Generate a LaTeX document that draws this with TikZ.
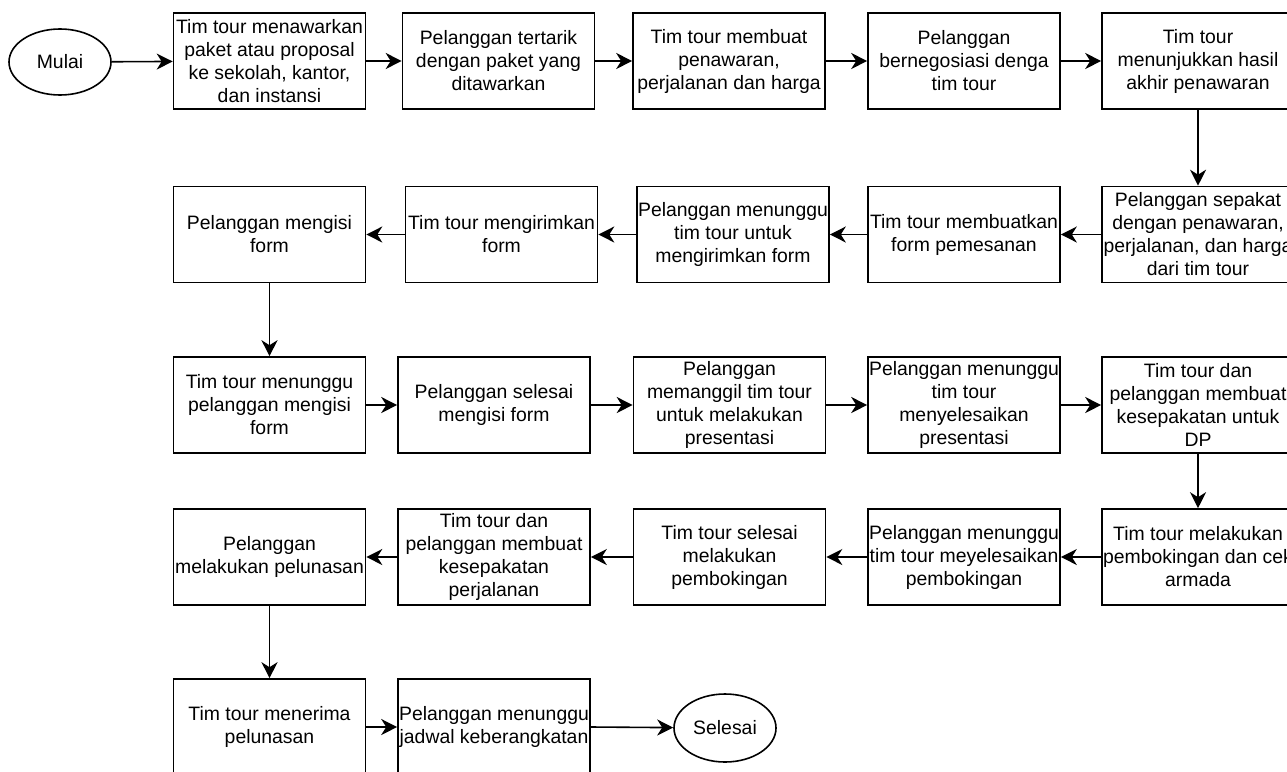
\documentclass[tikz,border=0pt]{standalone}
\usepackage{fontspec}
\setmainfont{Liberation Sans}
\usetikzlibrary{shapes.geometric,arrows.meta}
\newcommand\mkln[1]{\makebox[0pt][c]{#1}}
\tikzset{
  proc/.style={draw=black, line width=1.6pt, minimum width=192pt, minimum height=96pt,
    inner sep=0pt, align=center, font=\fontsize{19.4pt}{23pt}\selectfont},
  term/.style={ellipse, draw=black, line width=1.6pt, minimum width=102pt, minimum height=66pt,
    inner sep=0pt, font=\fontsize{19.4pt}{23pt}\selectfont},
  flow/.style={line width=1.6pt, -{Stealth[length=16pt,width=16pt,inset=5pt]}}
}
\begin{document}
\begin{tikzpicture}[x=1pt,y=-1pt]
\useasboundingbox[fill=white] (0,0) rectangle (1287,771);
% row 1
\node[term] (mulai) at (60,62) {Mulai};
\node[proc] (a1) at (269.5,61) {\mkln{Tim tour menawarkan}\\\mkln{paket atau proposal}\\\mkln{ke sekolah, kantor,}\\\mkln{dan instansi}};
\node[proc] (a2) at (498.5,61) {\mkln{Pelanggan tertarik}\\\mkln{dengan paket yang}\\\mkln{ditawarkan}};
\node[proc] (a3) at (729,61) {\mkln{Tim tour membuat}\\\mkln{penawaran,}\\\mkln{perjalanan dan harga}};
\node[proc] (a4) at (964,61) {\mkln{Pelanggan}\\\mkln{bernegosiasi denga}\\\mkln{tim tour}};
\node[proc] (a5) at (1198,61) {\mkln{Tim tour}\\\mkln{menunjukkan hasil}\\\mkln{akhir penawaran}};
% row 2
\node[proc] (b5) at (1198,234.5) {\mkln{Pelanggan sepakat}\\\mkln{dengan penawaran,}\\\mkln{perjalanan, dan harga}\\\mkln{dari tim tour}};
\node[proc] (b4) at (964,234.5) {\mkln{Tim tour membuatkan}\\\mkln{form pemesanan}};
\node[proc] (b3) at (733,234.5) {\mkln{Pelanggan menunggu}\\\mkln{tim tour untuk}\\\mkln{mengirimkan form}};
\node[proc] (b2) at (501.5,234.5) {\mkln{Tim tour mengirimkan}\\\mkln{form}};
\node[proc] (b1) at (269.5,234.5) {\mkln{Pelanggan mengisi}\\\mkln{form}};
% row 3
\node[proc] (c1) at (269.5,405) {\mkln{Tim tour menunggu}\\\mkln{pelanggan mengisi}\\\mkln{form}};
\node[proc] (c2) at (494,405) {\mkln{Pelanggan selesai}\\\mkln{mengisi form}};
\node[proc] (c3) at (729.5,405) {\mkln{Pelanggan}\\\mkln{memanggil tim tour}\\\mkln{untuk melakukan}\\\mkln{presentasi}};
\node[proc] (c4) at (964,405) {\mkln{Pelanggan menunggu}\\\mkln{tim tour}\\\mkln{menyelesaikan}\\\mkln{presentasi}};
\node[proc] (c5) at (1198,405) {\mkln{Tim tour dan}\\\mkln{pelanggan membuat}\\\mkln{kesepakatan untuk}\\\mkln{DP}};
% row 4
\node[proc] (d5) at (1198,557) {\mkln{Tim tour melakukan}\\\mkln{pembokingan dan cek}\\\mkln{armada}};
\node[proc] (d4) at (964,557) {\mkln{Pelanggan menunggu}\\\mkln{tim tour meyelesaikan}\\\mkln{pembokingan}};
\node[proc] (d3) at (729.5,557) {\mkln{Tim tour selesai}\\\mkln{melakukan}\\\mkln{pembokingan}};
\node[proc] (d2) at (494,557) {\mkln{Tim tour dan}\\\mkln{pelanggan membuat}\\\mkln{kesepakatan}\\\mkln{perjalanan}};
\node[proc] (d1) at (269.5,557) {\mkln{Pelanggan}\\\mkln{melakukan pelunasan}};
% row 5
\node[proc] (e1) at (269.5,727) {\mkln{Tim tour menerima}\\\mkln{pelunasan}};
\node[proc] (e2) at (494,727) {\mkln{Pelanggan menunggu}\\\mkln{jadwal keberangkatan}};
\node[term, minimum height=68pt] (selesai) at (725,728) {Selesai};
% connectors
\draw[flow] (mulai) -- (a1);
\draw[flow] (a1) -- (a2);
\draw[flow] (a2) -- (a3);
\draw[flow] (a3) -- (a4);
\draw[flow] (a4) -- (a5);
\draw[flow] (a5) -- (b5);
\draw[flow] (b5) -- (b4);
\draw[flow] (b4) -- (b3);
\draw[flow] (b3) -- (b2);
\draw[flow] (b2) -- (b1);
\draw[flow] (b1) -- (c1);
\draw[flow] (c1) -- (c2);
\draw[flow] (c2) -- (c3);
\draw[flow] (c3) -- (c4);
\draw[flow] (c4) -- (c5);
\draw[flow] (c5) -- (d5);
\draw[flow] (d5) -- (d4);
\draw[flow] (d4) -- (d3);
\draw[flow] (d3) -- (d2);
\draw[flow] (d2) -- (d1);
\draw[flow] (d1) -- (e1);
\draw[flow] (e1) -- (e2);
\draw[flow] (e2.east) -- (selesai);
\end{tikzpicture}
\end{document}
